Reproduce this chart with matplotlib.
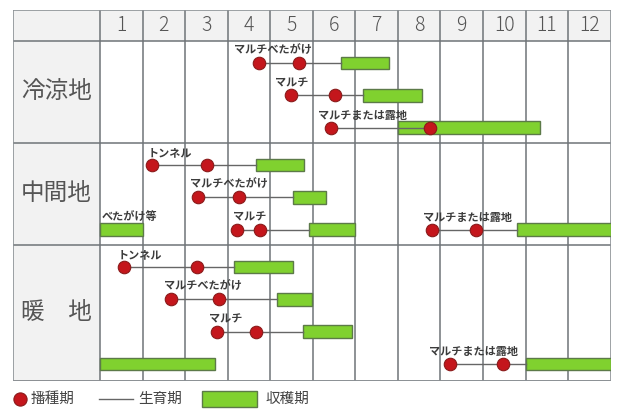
import numpy as np
import matplotlib
matplotlib.use("Agg")
import matplotlib.pyplot as plt
from matplotlib.patches import Rectangle

plt.rcParams['font.family'] = ['Noto Sans CJK JP', 'DejaVu Sans']

# ---------------- data ----------------
months = ['1', '2', '3', '4', '5', '6', '7', '8', '9', '10', '11', '12']
regions = ['冷涼地', '中間地', '暖　地']
region_rows = [3, 3, 4]

plan_region = [0, 0, 0, 1, 1, 1, 1, 1, 2, 2, 2, 2, 2]
plan_row = [0, 1, 2, 0, 1, 2, 2, 2, 0, 1, 2, 3, 3]
plan_label = ['マルチべたがけ', 'マルチ', 'マルチまたは露地',
              'トンネル', 'マルチべたがけ', 'べたがけ等', 'マルチ', 'マルチまたは露地',
              'トンネル', 'マルチべたがけ', 'マルチ', '', 'マルチまたは露地']
plan_label_x = [3.15, 4.11, 5.12, 1.11, 2.12, 0.04, 3.12, 7.58, 0.42, 1.50, 2.56, np.nan, 7.74]
sow_start = [3.74, 4.50, 5.42, 1.23, 2.31, np.nan, 3.21, 7.81, 0.56, 1.66, 2.74, np.nan, 8.23]
sow_end = [4.67, 5.53, 7.76, 2.52, 3.27, np.nan, 3.76, 8.84, 2.27, 2.80, 3.66, np.nan, 9.46]
harvest_start = [5.66, 6.19, 7.01, 3.66, 4.53, 0.0, 4.91, 9.81, 3.15, 4.15, 4.76, 0.0, 10.0]
harvest_end = [6.80, 7.57, 10.33, 4.79, 5.30, 1.0, 5.99, 12.0, 4.53, 4.99, 5.92, 2.70, 12.0]

legend_labels = ['播種期', '生育期', '収穫期']

# ---------------- style ----------------
W, H = 624, 413
fig = plt.figure(figsize=(W / 100, H / 100), dpi=100)

tbl_left, tbl_right = 12.7, 610.6
tbl_top, hdr_bottom, tbl_bottom = 9.5, 40.7, 380.7
col0 = 100.0
mw = (tbl_right - col0) / 12.0
rh = (tbl_bottom - hdr_bottom) / 10.0

ax = fig.add_axes([tbl_left / W, 1 - tbl_bottom / H,
                   (tbl_right - tbl_left) / W, (tbl_bottom - tbl_top) / H])
xmin = (tbl_left - col0) / mw
hdr_h = (hdr_bottom - tbl_top) / rh
ax.set_xlim(xmin, 12)
ax.set_ylim(10, -hdr_h)
ax.axis('off')

bg = '#f2f2f2'
grid_c = '#6f7478'
border_c = '#8d9296'
text_c = '#555555'
dot_c = '#c4161c'
dot_edge = '#8a1a1a'
bar_c = '#80d12f'
bar_edge = '#5c7a48'
line_c = '#666666'

# backgrounds
ax.add_patch(Rectangle((xmin, -hdr_h), 12 - xmin, hdr_h, facecolor=bg, edgecolor='none', zorder=0))
ax.add_patch(Rectangle((xmin, 0), -xmin, 10, facecolor=bg, edgecolor='none', zorder=0))

# grid
for m in range(0, 12):
    ax.plot([m, m], [-hdr_h, 10], color=grid_c, lw=1.1, zorder=1, solid_capstyle='butt')
section_tops = np.concatenate([[0], np.cumsum(region_rows)])
for y in section_tops:
    ax.plot([xmin, 12], [y, y], color=grid_c, lw=1.1, zorder=1, solid_capstyle='butt')
ax.add_patch(Rectangle((xmin, -hdr_h), 12 - xmin, 10 + hdr_h, facecolor='none',
                       edgecolor=border_c, lw=1.2, zorder=1))

# header numbers
for i, lab in enumerate(months):
    ax.text(i + 0.5, -hdr_h / 2, lab, ha='center', va='center', fontsize=14,
            color=text_c, fontweight='light')

# region labels
for r, name in enumerate(regions):
    yc = (section_tops[r] + section_tops[r + 1]) / 2
    ax.text(xmin / 2, yc, name, ha='center', va='center', fontsize=17, color=text_c)

# plans
for k in range(len(plan_label)):
    y = section_tops[plan_region[k]] + 0.66 + 0.95 * plan_row[k]
    hs, he = harvest_start[k], harvest_end[k]
    ax.add_patch(Rectangle((hs, y - 0.185), he - hs, 0.37, facecolor=bar_c,
                           edgecolor=bar_edge, lw=1.0, zorder=2))
    s1, s2 = sow_start[k], sow_end[k]
    if not np.isnan(s1):
        ax.plot([s1, max(s2, hs)], [y, y], color=line_c, lw=1.0, zorder=3)
        ax.plot([s1, s2], [y, y], 'o', ms=9, mfc=dot_c, mec=dot_edge, mew=0.8,
                lw=0, zorder=4)
    if plan_label[k]:
        ax.text(plan_label_x[k], y - 0.37, plan_label[k], ha='left', va='center',
                fontsize=8, color='#3c3c3c', fontweight='bold', zorder=5)

# legend (figure coordinates)
ly = 1 - 399 / H
fig.lines.append(plt.Line2D([20 / W], [ly], marker='o', ms=9.5, mfc=dot_c, mec=dot_edge,
                            mew=0.8, lw=0, transform=fig.transFigure))
fig.text(31 / W, ly, legend_labels[0], ha='left', va='center', fontsize=10.5, color='#444444')
fig.lines.append(plt.Line2D([99 / W, 133 / W], [ly, ly], color=line_c, lw=1.0,
                            transform=fig.transFigure))
fig.text(138 / W, ly, legend_labels[1], ha='left', va='center', fontsize=10.5, color='#444444')
fig.patches.append(Rectangle((202 / W, 1 - 407 / H), 55 / W, 16 / H, facecolor=bar_c,
                             edgecolor=bar_edge, lw=1.0, transform=fig.transFigure))
fig.text(265 / W, ly, legend_labels[2], ha='left', va='center', fontsize=10.5, color='#444444')

fig.savefig('out.png', dpi=100, facecolor='white')
